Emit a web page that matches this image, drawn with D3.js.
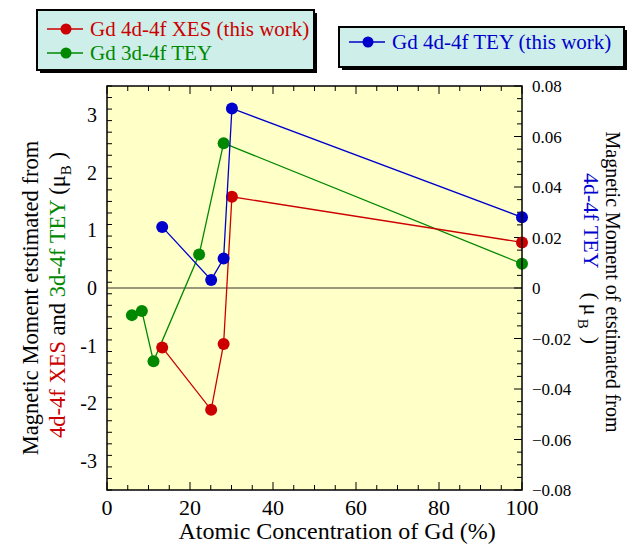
<!DOCTYPE html>
<html><head><meta charset="utf-8">
<script src="https://cdn.jsdelivr.net/npm/d3@7"></script>
<style>body{margin:0;background:#fff}svg{display:block}text{font-family:"Liberation Serif","Times New Roman",serif}</style>
</head><body><svg id="c" width="640" height="550"></svg>
<script>
// Data (x = atomic concentration of Gd %, y = magnetic moment)
const xesX = [13.3, 25.1, 28.1, 30.1, 100];
const xesY = [-1.03, -2.11, -0.97, 1.58, 0.79];
const tey3dX = [6.0, 8.4, 11.2, 22.2, 28.1, 100];
const tey3dY = [-0.47, -0.40, -1.27, 0.58, 2.51, 0.42];
const tey4dX = [13.3, 25.1, 28.1, 30.1, 100];
const tey4dY = [0.0242, 0.0032, 0.0117, 0.0711, 0.0280]; // right axis
const xTicks = [0, 20, 40, 60, 80, 100];
const yLeftTicks = [-3, -2, -1, 0, 1, 2, 3];
const yRightTicks = [-0.08, -0.06, -0.04, -0.02, 0, 0.02, 0.04, 0.06, 0.08];

const RED = "#cc0000", GREEN = "#008800", BLUE = "#0000cc";
const svg = d3.select("#c");
const L = 107, R = 522, T = 86, B = 490;
const x = d3.scaleLinear().domain([0, 100]).range([L, R]);
const yL = d3.scaleLinear().domain([-3.5, 3.5]).range([B, T]);
const yR = d3.scaleLinear().domain([-0.08, 0.08]).range([B, T]);

svg.append("rect").attr("x", L).attr("y", T).attr("width", R - L).attr("height", B - T).attr("fill", "#ffffc8");

// zero line
svg.append("line").attr("x1", L).attr("x2", R).attr("y1", yL(0)).attr("y2", yL(0)).attr("stroke", "#333").attr("stroke-width", 1.2);

// ticks
const tg = svg.append("g").attr("stroke", "#000").attr("stroke-width", 1);
d3.range(0, 101, 5).forEach(v => {
  const len = v % 20 === 0 ? 8 : 5;
  tg.append("line").attr("x1", x(v)).attr("x2", x(v)).attr("y1", B).attr("y2", B - len);
  tg.append("line").attr("x1", x(v)).attr("x2", x(v)).attr("y1", T).attr("y2", T + len);
});
d3.range(-35, 36, 2).forEach(k => {
  const v = k / 10;
  const len = Math.abs(k % 10) === 0 ? 8 : 5;
  tg.append("line").attr("x1", L).attr("x2", L + len).attr("y1", yL(v)).attr("y2", yL(v));
});
d3.range(-16, 17, 1).forEach(k => {
  const v = k * 0.005;
  const len = k % 4 === 0 ? 8 : 5;
  tg.append("line").attr("x1", R).attr("x2", R - len).attr("y1", yR(v)).attr("y2", yR(v));
});

// tick labels
svg.append("g").selectAll("text").data(xTicks).join("text")
  .attr("x", d => x(d)).attr("y", 515).attr("text-anchor", "middle").attr("font-size", 22).text(d => d);
svg.append("g").selectAll("text").data(yLeftTicks).join("text")
  .attr("x", 97).attr("y", d => yL(d) + 7).attr("text-anchor", "end").attr("font-size", 20).text(d => d);
svg.append("g").selectAll("text").data(yRightTicks).join("text")
  .attr("x", 532).attr("y", d => yR(d) + 6).attr("text-anchor", "start").attr("font-size", 17)
  .text(d => d === 0 ? "0" : d3.format(".2f")(d));

// series
const line = d3.line();
function series(xs, ys, sc, col) {
  const pts = xs.map((v, i) => [x(v), sc(ys[i])]);
  svg.append("path").attr("d", line(pts)).attr("fill", "none").attr("stroke", col).attr("stroke-width", 1.3);
  svg.append("g").selectAll("circle").data(pts).join("circle")
    .attr("cx", d => d[0]).attr("cy", d => d[1]).attr("r", 6).attr("fill", col);
}
series(tey3dX, tey3dY, yL, GREEN);
series(xesX, xesY, yL, RED);
series(tey4dX, tey4dY, yR, BLUE);

// frame
svg.append("rect").attr("x", L).attr("y", T).attr("width", R - L).attr("height", B - T)
  .attr("fill", "none").attr("stroke", "#000").attr("stroke-width", 1.5);

// axis titles
svg.append("text").attr("x", 337).attr("y", 539).attr("text-anchor", "middle").attr("font-size", 24)
  .text("Atomic Concentration of Gd (%)");

svg.append("text").attr("transform", "translate(38,298) rotate(-90)").attr("text-anchor", "middle").attr("font-size", 22.5)
  .text("Magnetic Moment etstimated from");
const lt2 = svg.append("text").attr("transform", "translate(65,295) rotate(-90)").attr("text-anchor", "middle").attr("font-size", 22.5);
lt2.append("tspan").attr("fill", RED).text("4d-4f XES");
lt2.append("tspan").text(" and ");
lt2.append("tspan").attr("fill", GREEN).text("3d-4f TEY");
lt2.append("tspan").text(" (\u03bc");
lt2.append("tspan").attr("font-size", 15).attr("dy", 6).text("B");
lt2.append("tspan").attr("dy", -6).text(" )");

svg.append("text").attr("transform", "translate(606,282) rotate(90)").attr("text-anchor", "middle").attr("font-size", 20)
  .text("Magnetic Moment of etstimated from");
const rt2 = svg.append("text").attr("transform", "translate(584,173) rotate(90)").attr("text-anchor", "start").attr("font-size", 22);
rt2.append("tspan").attr("fill", BLUE).text("4d-4f TEY");
rt2.append("tspan").attr("dx", 24).text("(");
rt2.append("tspan").attr("dx", 4).text("\u03bc");
rt2.append("tspan").attr("font-size", 15).attr("dx", 3).attr("dy", 6).text("B");
rt2.append("tspan").attr("dx", 8).attr("dy", -6).text(")");

// legends
function box(bx, by, w, h) {
  svg.append("rect").attr("x", bx + 3).attr("y", by + 3).attr("width", w).attr("height", h).attr("fill", "#000");
  svg.append("rect").attr("x", bx).attr("y", by).attr("width", w).attr("height", h)
    .attr("fill", "#cdeee9").attr("stroke", "#000").attr("stroke-width", 2);
}
function entry(lx, ly, col, label) {
  svg.append("line").attr("x1", lx).attr("x2", lx + 36).attr("y1", ly).attr("y2", ly).attr("stroke", col).attr("stroke-width", 1.3);
  svg.append("circle").attr("cx", lx + 19).attr("cy", ly).attr("r", 5.5).attr("fill", col);
  svg.append("text").attr("x", lx + 43).attr("y", ly + 7).attr("font-size", 21).attr("fill", col).text(label);
}
box(37, 10, 277, 60);
entry(47, 29, RED, "Gd 4d-4f XES (this work)");
entry(47, 53, GREEN, "Gd 3d-4f TEY");
box(339, 27, 285, 40);
entry(349, 42, BLUE, "Gd 4d-4f TEY (this work)");
</script></body></html>
